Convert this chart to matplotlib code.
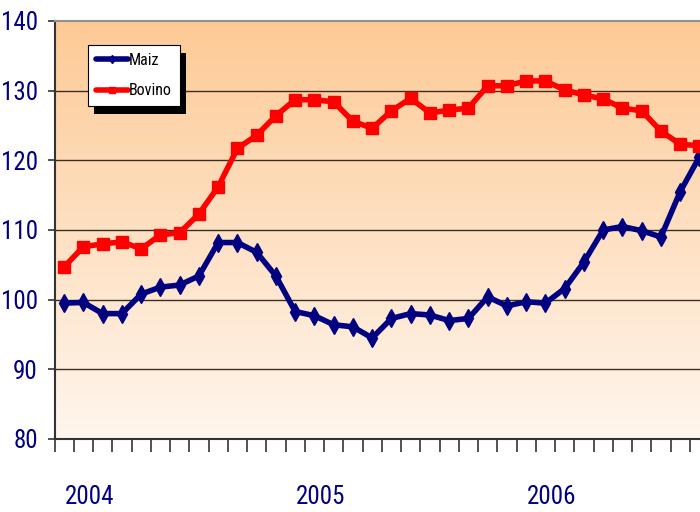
import numpy as np
import matplotlib
matplotlib.use("Agg")
import matplotlib.pyplot as plt
from matplotlib.patches import Rectangle
from matplotlib.transforms import blended_transform_factory

plt.rcParams['font.family'] = ['Liberation Sans Narrow', 'Roboto Condensed', 'Liberation Sans', 'DejaVu Sans']

# monthly index values
maiz = [99.5, 99.6, 98.0, 98.0, 100.8, 101.8, 102.1, 103.4, 108.2, 108.2,
        106.8, 103.4, 98.3, 97.7, 96.4, 96.1, 94.5, 97.3, 98.0, 97.8,
        97.0, 97.3, 100.4, 99.1, 99.7, 99.5, 101.6, 105.4, 110.0, 110.5,
        109.9, 109.0, 115.5, 120.5]
bovino = [104.7, 107.6, 108.0, 108.3, 107.3, 109.3, 109.6, 112.3, 116.2, 121.7,
          123.6, 126.4, 128.7, 128.7, 128.4, 125.6, 124.6, 127.1, 128.9, 126.8,
          127.2, 127.5, 130.7, 130.7, 131.4, 131.4, 130.1, 129.4, 128.8, 127.5,
          127.1, 124.2, 122.3, 122.1]
years = ["2004", "2005", "2006"]
navy = "#000080"

fig = plt.figure(figsize=(7, 5.12), dpi=100)
ax = fig.add_axes([54.5 / 700, 1 - 439 / 512, 645.5 / 700, 418 / 512])

x = np.arange(len(maiz))
xmin, xmax = -0.5, 33.03

# background gradient
top = np.array([253, 202, 150]) / 255
bot = np.array([255, 246, 238]) / 255
t = np.linspace(0, 1, 256)[:, None]
grad = (top * (1 - t) + bot * t)[:, None, :]
ax.imshow(grad, extent=[xmin, xmax, 80, 140], aspect='auto', zorder=0)

for v in [90, 100, 110, 120, 130]:
    ax.axhline(v, color="#3a3020", lw=1.0, zorder=1)

ax.plot(x, maiz, color=navy, lw=4, marker='d', ms=9, label="Maiz", zorder=3)
ax.plot(x, bovino, color="#ff0000", lw=4, marker='s', ms=8, label="Bovino", zorder=3)

ax.set_xlim(xmin, xmax)
ax.set_ylim(80, 140)
ax.set_yticks(range(80, 141, 10))
ax.set_xticks(np.arange(-0.5, 33, 1.0))
ax.set_xticklabels([])
ax.tick_params(axis='x', direction='out', length=9, width=1.2, color="#333333")
ax.tick_params(axis='y', direction='out', length=5, width=1.2, color="#333333",
               labelsize=18, labelcolor=navy, pad=7)
ax.spines['right'].set_visible(False)
ax.spines['top'].set_color("#909090")
ax.spines['top'].set_linewidth(1.5)
for s in ['left', 'bottom']:
    ax.spines[s].set_color("#333333")
    ax.spines[s].set_linewidth(1.5)

yr_tr = blended_transform_factory(ax.transData, fig.transFigure)
for i, yr in enumerate(years):
    ax.text(1.3 + 12 * i, 0.029, yr, transform=yr_tr,
            ha='center', va='center', fontsize=18, color=navy)

leg = ax.legend(loc='upper left', bbox_to_anchor=(88 / 700, 1 - 45 / 512),
                bbox_transform=fig.transFigure, fontsize=11.5, frameon=True,
                fancybox=False, edgecolor='black', framealpha=1, facecolor='white',
                handlelength=2.0, handletextpad=0.05, borderpad=0.5, labelspacing=0.95,
                borderaxespad=0, markerscale=0.5)
leg.get_frame().set_linewidth(0.8)
leg.set_zorder(5)
for h in leg.get_lines():
    h.set_solid_capstyle('round')

fig.canvas.draw()
bb = leg.get_window_extent()
shadow = Rectangle((bb.x0 + 6, bb.y0 - 8), bb.width, bb.height, transform=None,
                   facecolor='black', edgecolor='none', zorder=4, clip_on=False)
ax.add_patch(shadow)

fig.savefig("out.png", dpi=100)
